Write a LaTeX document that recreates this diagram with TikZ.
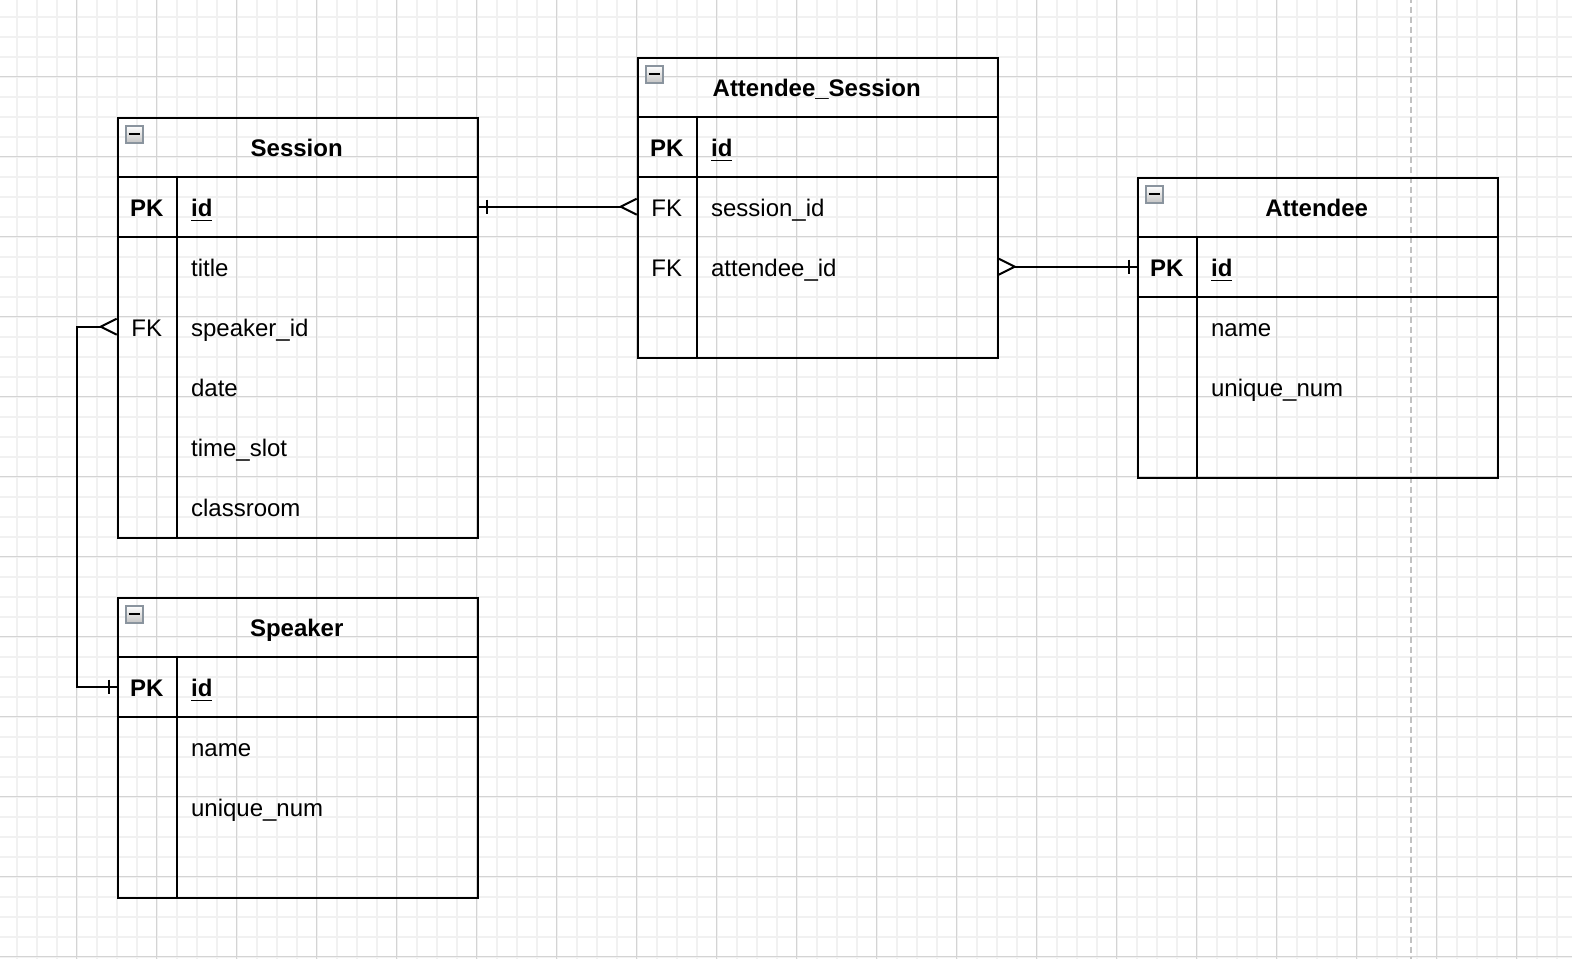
\documentclass[tikz,border=0pt]{standalone}
\usepackage{fontspec}
\setmainfont{Liberation Sans}
\usetikzlibrary{calc,shadings}
\definecolor{gridminor}{HTML}{F1F1F1}
\definecolor{gridmajor}{HTML}{D4D4D4}
\definecolor{pagebreak}{HTML}{C2C2C2}
\definecolor{iconborder}{HTML}{8A949E}
\definecolor{iconbot}{HTML}{C4C4C4}
\newcommand{\pkul}[1]{\setbox0\hbox{#1}\rlap{\rule[-2.5pt]{\wd0}{0.9pt}}\box0}
\begin{document}
\begin{tikzpicture}[x=0.5pt,y=-0.5pt,
  tbl/.style={draw=black,line width=1pt,anchor=north west,inner sep=0pt,minimum width=180pt,minimum height=#1*0.5pt},
  tline/.style={draw=black,line width=1pt},
  conn/.style={draw=black,line width=1pt,line join=miter},
  icon/.style={draw=iconborder,line width=0.8pt,top color=white,bottom color=iconbot,minimum size=8.5pt,inner sep=0pt},
  ttl/.style={inner sep=0pt,text height=9.6pt,text depth=0pt,font=\fontsize{12}{14}\selectfont\bfseries},
  key/.style={inner sep=0pt,text height=9.6pt,text depth=0pt,font=\fontsize{12}{14}\selectfont},
  keyb/.style={ttl},
  fld/.style={key,anchor=west},
  fldb/.style={ttl,anchor=west}
]
\useasboundingbox (3.3,3.3) rectangle (1575.3,961.3);
\fill[white] (3.3,3.3) rectangle (1575.3,961.3);
% grid
\foreach \i in {0,...,79} \draw[gridminor,line width=0.8pt] (\i*20,0) -- (\i*20,965);
\foreach \i in {0,...,48} \draw[gridminor,line width=0.8pt] (0,\i*20) -- (1580,\i*20);
\foreach \i in {0,...,19} \draw[gridmajor,line width=0.5pt] (\i*80,0) -- (\i*80,965);
\foreach \i in {0,...,12} \draw[gridmajor,line width=0.5pt] (0,\i*80) -- (1580,\i*80);
\draw[pagebreak,line width=1pt,dash pattern=on 3.35pt off 1.65pt] (1414,0) -- (1414,965);

% ---------- Session ----------
\node[tbl=420] (session) at (120,120) {};
\draw[tline] ($(session.north west)+(0,60)$) -- ++(360,0);
\draw[tline] ($(session.north west)+(0,120)$) -- ++(360,0);
\draw[tline] ($(session.north west)+(60,60)$) -- ($(session.south west)+(60,0)$);
\node[icon] (session-i) at ($(session.north west)+(17.5,17.5)$) {};
\draw[line width=0.8pt] ($(session-i.center)+(-5.5,0)$) -- ($(session-i.center)+(5.5,0)$);
\node[ttl] (session-t) at (300,150) {Session};
\node[keyb] (s-k1) at (150,210) {PK};
\node[fldb] (s-id) at (194,210) {\pkul{id}};
\node[fld] (s-title) at (194,270) {title};
\node[key] (s-k3) at (150,330) {FK};
\node[fld] (s-spk) at (194,330) {speaker\_id};
\node[fld] (s-date) at (194,390) {date};
\node[fld] (s-slot) at (194,450) {time\_slot};
\node[fld] (s-room) at (194,510) {classroom};

% ---------- Speaker ----------
\node[tbl=300] (speaker) at (120,600) {};
\draw[tline] ($(speaker.north west)+(0,60)$) -- ++(360,0);
\draw[tline] ($(speaker.north west)+(0,120)$) -- ++(360,0);
\draw[tline] ($(speaker.north west)+(60,60)$) -- ($(speaker.south west)+(60,0)$);
\node[icon] (speaker-i) at ($(speaker.north west)+(17.5,17.5)$) {};
\draw[line width=0.8pt] ($(speaker-i.center)+(-5.5,0)$) -- ($(speaker-i.center)+(5.5,0)$);
\node[ttl] (speaker-t) at (300,630) {Speaker};
\node[keyb] (sp-k1) at (150,690) {PK};
\node[fldb] (sp-id) at (194,690) {\pkul{id}};
\node[fld] (sp-name) at (194,750) {name};
\node[fld] (sp-num) at (194,810) {unique\_num};

% ---------- Attendee_Session ----------
\node[tbl=300] (assess) at (640,60) {};
\draw[tline] ($(assess.north west)+(0,60)$) -- ++(360,0);
\draw[tline] ($(assess.north west)+(0,120)$) -- ++(360,0);
\draw[tline] ($(assess.north west)+(60,60)$) -- ($(assess.south west)+(60,0)$);
\node[icon] (assess-i) at ($(assess.north west)+(17.5,17.5)$) {};
\draw[line width=0.8pt] ($(assess-i.center)+(-5.5,0)$) -- ($(assess-i.center)+(5.5,0)$);
\node[ttl] (assess-t) at (820,90) {Attendee\_Session};
\node[keyb] (as-k1) at (670,150) {PK};
\node[fldb] (as-id) at (714,150) {\pkul{id}};
\node[key] (as-k2) at (670,210) {FK};
\node[fld] (as-sid) at (714,210) {session\_id};
\node[key] (as-k3) at (670,270) {FK};
\node[fld] (as-aid) at (714,270) {attendee\_id};

% ---------- Attendee ----------
\node[tbl=300] (attendee) at (1140,180) {};
\draw[tline] ($(attendee.north west)+(0,60)$) -- ++(360,0);
\draw[tline] ($(attendee.north west)+(0,120)$) -- ++(360,0);
\draw[tline] ($(attendee.north west)+(60,60)$) -- ($(attendee.south west)+(60,0)$);
\node[icon] (attendee-i) at ($(attendee.north west)+(17.5,17.5)$) {};
\draw[line width=0.8pt] ($(attendee-i.center)+(-5.5,0)$) -- ($(attendee-i.center)+(5.5,0)$);
\node[ttl] (attendee-t) at (1320,210) {Attendee};
\node[keyb] (at-k1) at (1170,270) {PK};
\node[fldb] (at-id) at (1214,270) {\pkul{id}};
\node[fld] (at-name) at (1214,330) {name};
\node[fld] (at-num) at (1214,390) {unique\_num};

% ---------- connectors ----------
% Session.id (one) -- Attendee_Session.session_id (many)
\draw[conn] (s-id -| session.east) -- ($(as-sid -| assess.west)+(-16,0)$);
\draw[conn] ($(s-id -| session.east)+(8,-7)$) -- ++(0,14);
\draw[conn] ($(as-sid -| assess.west)+(0,-8)$) -- ($(as-sid -| assess.west)+(-16,0)$) -- ($(as-sid -| assess.west)+(0,8)$);

% Session.speaker_id (many) -- Speaker.id (one)
\draw[conn] ($(s-spk -| session.west)+(-16,0)$) -- ++(-24,0) |- (sp-id -| speaker.west);
\draw[conn] ($(s-spk -| session.west)+(0,-8)$) -- ($(s-spk -| session.west)+(-16,0)$) -- ($(s-spk -| session.west)+(0,8)$);
\draw[conn] ($(sp-id -| speaker.west)+(-8,-7)$) -- ++(0,14);

% Attendee_Session.attendee_id (many) -- Attendee.id (one)
\draw[conn] ($(as-aid -| assess.east)+(16,0)$) -- (at-id -| attendee.west);
\draw[conn] ($(as-aid -| assess.east)+(0,-8)$) -- ($(as-aid -| assess.east)+(16,0)$) -- ($(as-aid -| assess.east)+(0,8)$);
\draw[conn] ($(at-id -| attendee.west)+(-8,-7)$) -- ++(0,14);
\end{tikzpicture}
\end{document}
